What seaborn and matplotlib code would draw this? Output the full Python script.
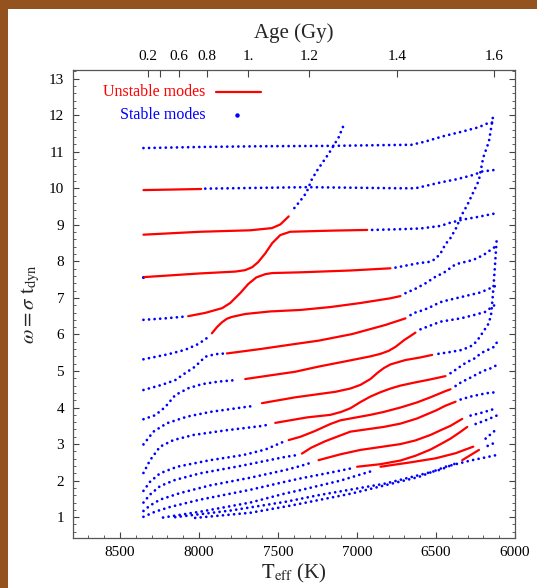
import numpy as np
import pandas as pd
import matplotlib
matplotlib.use("Agg")
import matplotlib.pyplot as plt
import seaborn as sns
from matplotlib.patches import Rectangle
from matplotlib.ticker import MultipleLocator, FixedLocator, NullLocator

sns.set_theme(style="white")
plt.rcParams['font.family'] = ['Liberation Serif', 'DejaVu Serif']
plt.rcParams['mathtext.fontset'] = 'stix'

# ---- data: mode tracks (Teff [K], omega), state per point: s=stable, u=unstable ----
A_T = [8351, 7992, 7612, 7168, 6851, 6655, 6566, 6458, 6344, 6230, 6167, 6116]
A_w = [11.10, 11.13, 11.15, 11.16, 11.18, 11.19, 11.28, 11.42, 11.54, 11.67, 11.79, 11.81]
A_s = "ssssssssssss"

B_T = [8351, 7986, 7960, 7320, 6725, 6630, 6471, 6365, 6260, 6207, 6112]
B_w = [9.95, 9.98, 9.99, 10.03, 10.00, 10.00, 10.16, 10.25, 10.37, 10.46, 10.51]
B_s = "uusssssssss"

C_T = [8351, 7992, 7675, 7538, 7485, 7432, 7396, 7358, 7320, 7285, 7250, 7215, 7180, 7150, 7115, 7080]
C_w = [8.73, 8.81, 8.85, 8.91, 9.01, 9.23, 9.46, 9.66, 9.88, 10.25, 10.50, 10.72, 10.94, 11.15, 11.40, 11.77]
C_s = "uuuuuussssssssss"

D_T = [8355, 8345, 7992, 7770, 7707, 7663, 7625, 7580, 7536, 7485, 7422, 7168, 6935,
       6904, 6725, 6598, 6471, 6408, 6334, 6230, 6116]
D_w = [7.57, 7.57, 7.67, 7.72, 7.76, 7.84, 7.98, 8.22, 8.50, 8.72, 8.81, 8.84, 8.86,
       8.86, 8.88, 8.90, 8.97, 9.06, 9.14, 9.22, 9.32]
D_s = "s" + "u" * 12 + "s" * 8

E_T = [8351, 8214, 8087, 8068, 7960, 7853, 7802, 7739, 7688, 7637, 7580, 7536, 7358, 7042, 6788,
       6756, 6610, 6535, 6503, 6471, 6440, 6408, 6374, 6336, 6302, 6264, 6229, 6201, 6165, 6140]
E_w = [6.40, 6.44, 6.49, 6.50, 6.59, 6.72, 6.86, 7.13, 7.38, 7.56, 7.65, 7.68, 7.70, 7.75, 7.81,
       7.83, 7.95, 7.99, 8.07, 8.22, 8.47, 8.64, 8.90, 9.28, 9.54, 9.89, 10.21, 10.84, 11.28, 11.94]
E_s = "sss" + "u" * 12 + "s" * 15

F_T = [8351, 8193, 8087, 8003, 7950, 7918, 7886, 7855, 7823, 7791, 7707, 7548, 7358, 7168, 6978, 6788, 6725,
       6693, 6630, 6566, 6503, 6450, 6376, 6264, 6197, 6116]
F_w = [5.32, 5.46, 5.58, 5.74, 5.90, 6.03, 6.20, 6.33, 6.43, 6.48, 6.56, 6.63, 6.67, 6.75, 6.86, 6.99, 7.05,
       7.13, 7.25, 7.40, 7.58, 7.69, 7.92, 8.04, 8.18, 8.43]
F_s = "sssss" + "u" * 12 + "s" * 9

G_T = [8351, 8235, 8150, 8087, 8024, 7960, 7897, 7834, 7823, 7612, 7390, 7243, 7031, 6820, 6693,
       6661, 6630, 6578, 6535, 6493, 6461, 6344, 6218, 6116]
G_w = [4.48, 4.62, 4.75, 4.94, 5.12, 5.39, 5.46, 5.48, 5.48, 5.60, 5.74, 5.83, 6.01, 6.26, 6.44,
       6.53, 6.60, 6.67, 6.75, 6.84, 6.90, 7.02, 7.15, 7.34]
G_s = "ssssssss" + "u" * 7 + "s" * 9

H_T = [8351, 8277, 8214, 8150, 8066, 7981, 7876, 7770,
       7707, 7390, 7243, 7031, 6915, 6851, 6800, 6756, 6700, 6661, 6630,
       6598, 6471, 6344, 6260, 6186, 6144, 6116]
H_w = [3.68, 3.79, 4.01, 4.34, 4.53, 4.64, 4.71, 4.75,
       4.78, 4.98, 5.12, 5.30, 5.40, 5.47, 5.55, 5.66, 5.85, 5.96, 6.05,
       6.14, 6.35, 6.44, 6.53, 6.62, 6.76, 6.84]
H_s = "s" * 8 + "u" * 11 + "s" * 7

I_T = [8351, 8288, 8203, 8076, 7929, 7697, 7644,
       7601, 7390, 7137, 7042, 6978, 6915, 6870, 6830, 6788, 6725, 6693, 6600, 6524,
       6484, 6408, 6332, 6264, 6228, 6197, 6165, 6150, 6140, 6128, 6116]
I_w = [2.99, 3.34, 3.57, 3.75, 3.88, 4.02, 4.05,
       4.12, 4.28, 4.43, 4.52, 4.62, 4.78, 4.95, 5.08, 5.18, 5.26, 5.30, 5.37, 5.44,
       5.47, 5.52, 5.58, 5.71, 5.90, 6.10, 6.31, 6.58, 7.08, 7.80, 8.59]
I_s = "s" * 7 + "u" * 13 + "s" * 11

J_T = [8351, 8309, 8246, 8161, 8034, 7823, 7612, 7561,
       7517, 7316, 7168, 7100, 7042, 6978, 6915, 6851, 6788, 6725, 6640, 6535, 6440,
       6408, 6370, 6334, 6302, 6264, 6228, 6197, 6165, 6133, 6112]
J_w = [2.21, 2.56, 2.93, 3.11, 3.25, 3.38, 3.49, 3.53,
       3.58, 3.73, 3.80, 3.88, 3.98, 4.15, 4.30, 4.42, 4.52, 4.60, 4.68, 4.77, 4.86,
       4.94, 5.05, 5.16, 5.25, 5.32, 5.44, 5.53, 5.59, 5.66, 5.80]
J_s = "s" * 8 + "u" * 13 + "s" * 10

K_T = [8351, 8309, 8246, 8138, 7929, 7720, 7580, 7472,
       7432, 7358, 7270, 7168, 7105, 7042, 6915, 6830, 6725, 6620, 6535, 6440, 6408,
       6376, 6334, 6302, 6264, 6228, 6197, 6165, 6133, 6116]
K_w = [1.72, 1.97, 2.20, 2.38, 2.56, 2.70, 2.85, 3.05,
       3.11, 3.20, 3.35, 3.55, 3.65, 3.70, 3.80, 3.88, 4.00, 4.14, 4.28, 4.45, 4.50,
       4.59, 4.71, 4.77, 4.86, 4.94, 5.01, 5.05, 5.12, 5.16]
K_s = "s" * 8 + "u" * 13 + "s" * 9

L_T = [8351, 8309, 8246, 8150, 7992, 7739, 7453, 7377,
       7348, 7290, 7200, 7042, 6830, 6725, 6620, 6500, 6440, 6376,
       6344, 6281, 6218, 6167, 6116]
L_w = [1.40, 1.62, 1.85, 2.02, 2.20, 2.40, 2.65, 2.70,
       2.74, 2.90, 3.08, 3.34, 3.47, 3.56, 3.70, 3.92, 4.05, 4.16,
       4.22, 4.30, 4.36, 4.40, 4.42]
L_s = "s" * 8 + "u" * 10 + "s" * 5

M_T = [8351, 8309, 8246, 8119, 7929, 7675, 7453, 7358, 7282,
       7243, 7105, 6978, 6851, 6725, 6630, 6535, 6470, 6408, 6334,
       6281, 6218, 6154, 6116]
M_w = [1.17, 1.32, 1.48, 1.66, 1.87, 2.08, 2.29, 2.40, 2.50,
       2.56, 2.72, 2.84, 2.92, 3.00, 3.10, 3.25, 3.38, 3.50, 3.69,
       3.78, 3.85, 3.93, 3.99]
M_s = "s" * 9 + "u" * 10 + "s" * 4

N_T = [8351, 8277, 8182, 7992, 7675, 7453, 7358, 7168, 7042,
       6999, 6851, 6725, 6630, 6535, 6470, 6408, 6350, 6302,
       6249, 6186, 6116]
N_w = [1.01, 1.15, 1.28, 1.48, 1.75, 1.97, 2.06, 2.22, 2.33,
       2.38, 2.45, 2.55, 2.68, 2.85, 3.00, 3.15, 3.32, 3.47,
       3.55, 3.65, 3.78]
N_s = "s" * 9 + "u" * 9 + "s" * 3

O_T = [8227, 7992, 7675, 7453, 7358, 7105, 6915,
       6851, 6661, 6503, 6376, 6264,
       6186, 6116]
O_w = [0.99, 1.15, 1.40, 1.65, 1.74, 2.00, 2.25,
       2.38, 2.50, 2.61, 2.75, 2.93,
       3.15, 3.41]
O_s = "s" * 7 + "u" * 5 + "s" * 2

P_T = [8150, 7802, 7453, 7245, 6820, 6471, 6376,
       6334, 6228,
       6173, 6116]
P_w = [1.00, 1.18, 1.42, 1.60, 1.92, 2.30, 2.47,
       2.56, 2.84,
       2.95, 3.06]
P_s = "s" * 7 + "uu" + "ss"

Q_T = [8024, 7675, 7403, 7031, 6609, 6440, 6281, 6116]
Q_w = [0.98, 1.12, 1.33, 1.65, 2.10, 2.38, 2.55, 2.70]
Q_s = "s" * 8

tracks = [(A_T, A_w, A_s), (B_T, B_w, B_s), (C_T, C_w, C_s), (D_T, D_w, D_s),
          (E_T, E_w, E_s), (F_T, F_w, F_s), (G_T, G_w, G_s), (H_T, H_w, H_s),
          (I_T, I_w, I_s), (J_T, J_w, J_s), (K_T, K_w, K_s), (L_T, L_w, L_s),
          (M_T, M_w, M_s), (N_T, N_w, N_s), (O_T, O_w, O_s), (P_T, P_w, P_s),
          (Q_T, Q_w, Q_s)]

x_ticks = [8500, 8000, 7500, 7000, 6500, 6000]
y_ticks = list(range(1, 14))
age_T = [8322, 8246, 8129, 7951, 7690, 7304, 6746, 6132]
age_labels = ["0.2", "", "0.6", "0.8", "1.", "1.2", "1.4", "1.6"]

RED = "#ff0000"
BLUE = "#0000ff"

# ---- figure ----
W, H = 537, 588
fig = plt.figure(figsize=(W / 100, H / 100), dpi=100, facecolor="#94521f")
fig.add_artist(Rectangle((8 / W, 0), 1, 1 - 9 / H, transform=fig.transFigure,
                         facecolor="white", edgecolor="none", zorder=-10))
ax = fig.add_axes([72.5 / W, 1 - 538 / H, (515 - 72.5) / W, (538 - 69.5) / H])
ax.set_facecolor("white")


def runs(T, w, s):
    out, start = [], 0
    for i in range(1, len(s) + 1):
        if i == len(s) or s[i] != s[start]:
            out.append((s[start], T[start:i], w[start:i]))
            start = i
    return out


for T, w, s in tracks:
    for st, tt, ww in runs(T, w, s):
        df = pd.DataFrame({"T": tt, "w": ww})
        if st == "u":
            sns.lineplot(data=df, x="T", y="w", sort=False, estimator=None,
                         color=RED, lw=1.6, ax=ax, zorder=3)
        elif len(df) == 1:
            sns.scatterplot(data=df, x="T", y="w", color=BLUE, s=5, linewidth=0, ax=ax, zorder=3)
        else:
            sns.lineplot(data=df, x="T", y="w", sort=False, estimator=None,
                         color=BLUE, lw=2.0, linestyle=(0, (0.01, 2.0)),
                         dash_capstyle="round", ax=ax, zorder=3)

ax.set_xlim(8800, 6000)
ax.set_ylim(0.43, 13.25)
ax.xaxis.set_major_locator(FixedLocator(x_ticks))
ax.xaxis.set_minor_locator(MultipleLocator(100))
ax.yaxis.set_major_locator(FixedLocator(y_ticks))
ax.yaxis.set_minor_locator(MultipleLocator(0.2))
ax.set_xticklabels([str(v) for v in x_ticks])
ax.set_yticklabels([str(v) for v in y_ticks])
ax.tick_params(which="both", direction="in", top=False, right=True, bottom=True, left=True,
               colors="#444444", labelcolor="black", labelsize=11, pad=6)
ax.tick_params(which="major", length=4.5, width=0.8)
ax.tick_params(which="minor", length=2.5, width=0.6)
for sp in ax.spines.values():
    sp.set_color("#555555")
    sp.set_linewidth(0.9)

ax.set_xlabel(r"$\mathrm{T}_{\mathrm{eff}}$ (K)", fontsize=15, labelpad=2)
ax.set_ylabel(r"$\omega = \sigma\ \mathrm{t}_{\mathrm{dyn}}$", fontsize=15, labelpad=5)

top = ax.twiny()
top.set_xlim(ax.get_xlim())
top.xaxis.set_major_locator(FixedLocator(age_T))
top.xaxis.set_minor_locator(NullLocator())
top.set_xticklabels(age_labels)
top.tick_params(direction="in", length=5, width=0.8, colors="#444444", labelcolor="black",
                labelsize=11, pad=5)
for sp in top.spines.values():
    sp.set_visible(False)
top.set_xlabel("Age (Gy)", fontsize=15, labelpad=8)

# legend
ax.text(0.3006, 0.9527, "Unstable modes", transform=ax.transAxes, color=RED,
        fontsize=11.5, ha="right", va="center")
ax.plot([0.3254, 0.4249], [0.9527, 0.9527], transform=ax.transAxes, color=RED, lw=1.6)
ax.text(0.3006, 0.9037, "Stable modes", transform=ax.transAxes, color=BLUE,
        fontsize=11.5, ha="right", va="center")
ax.plot([0.371], [0.9037], transform=ax.transAxes, marker="o", ms=2.2, color=BLUE, lw=0)

fig.savefig("out.png", dpi=100, facecolor=fig.get_facecolor())
